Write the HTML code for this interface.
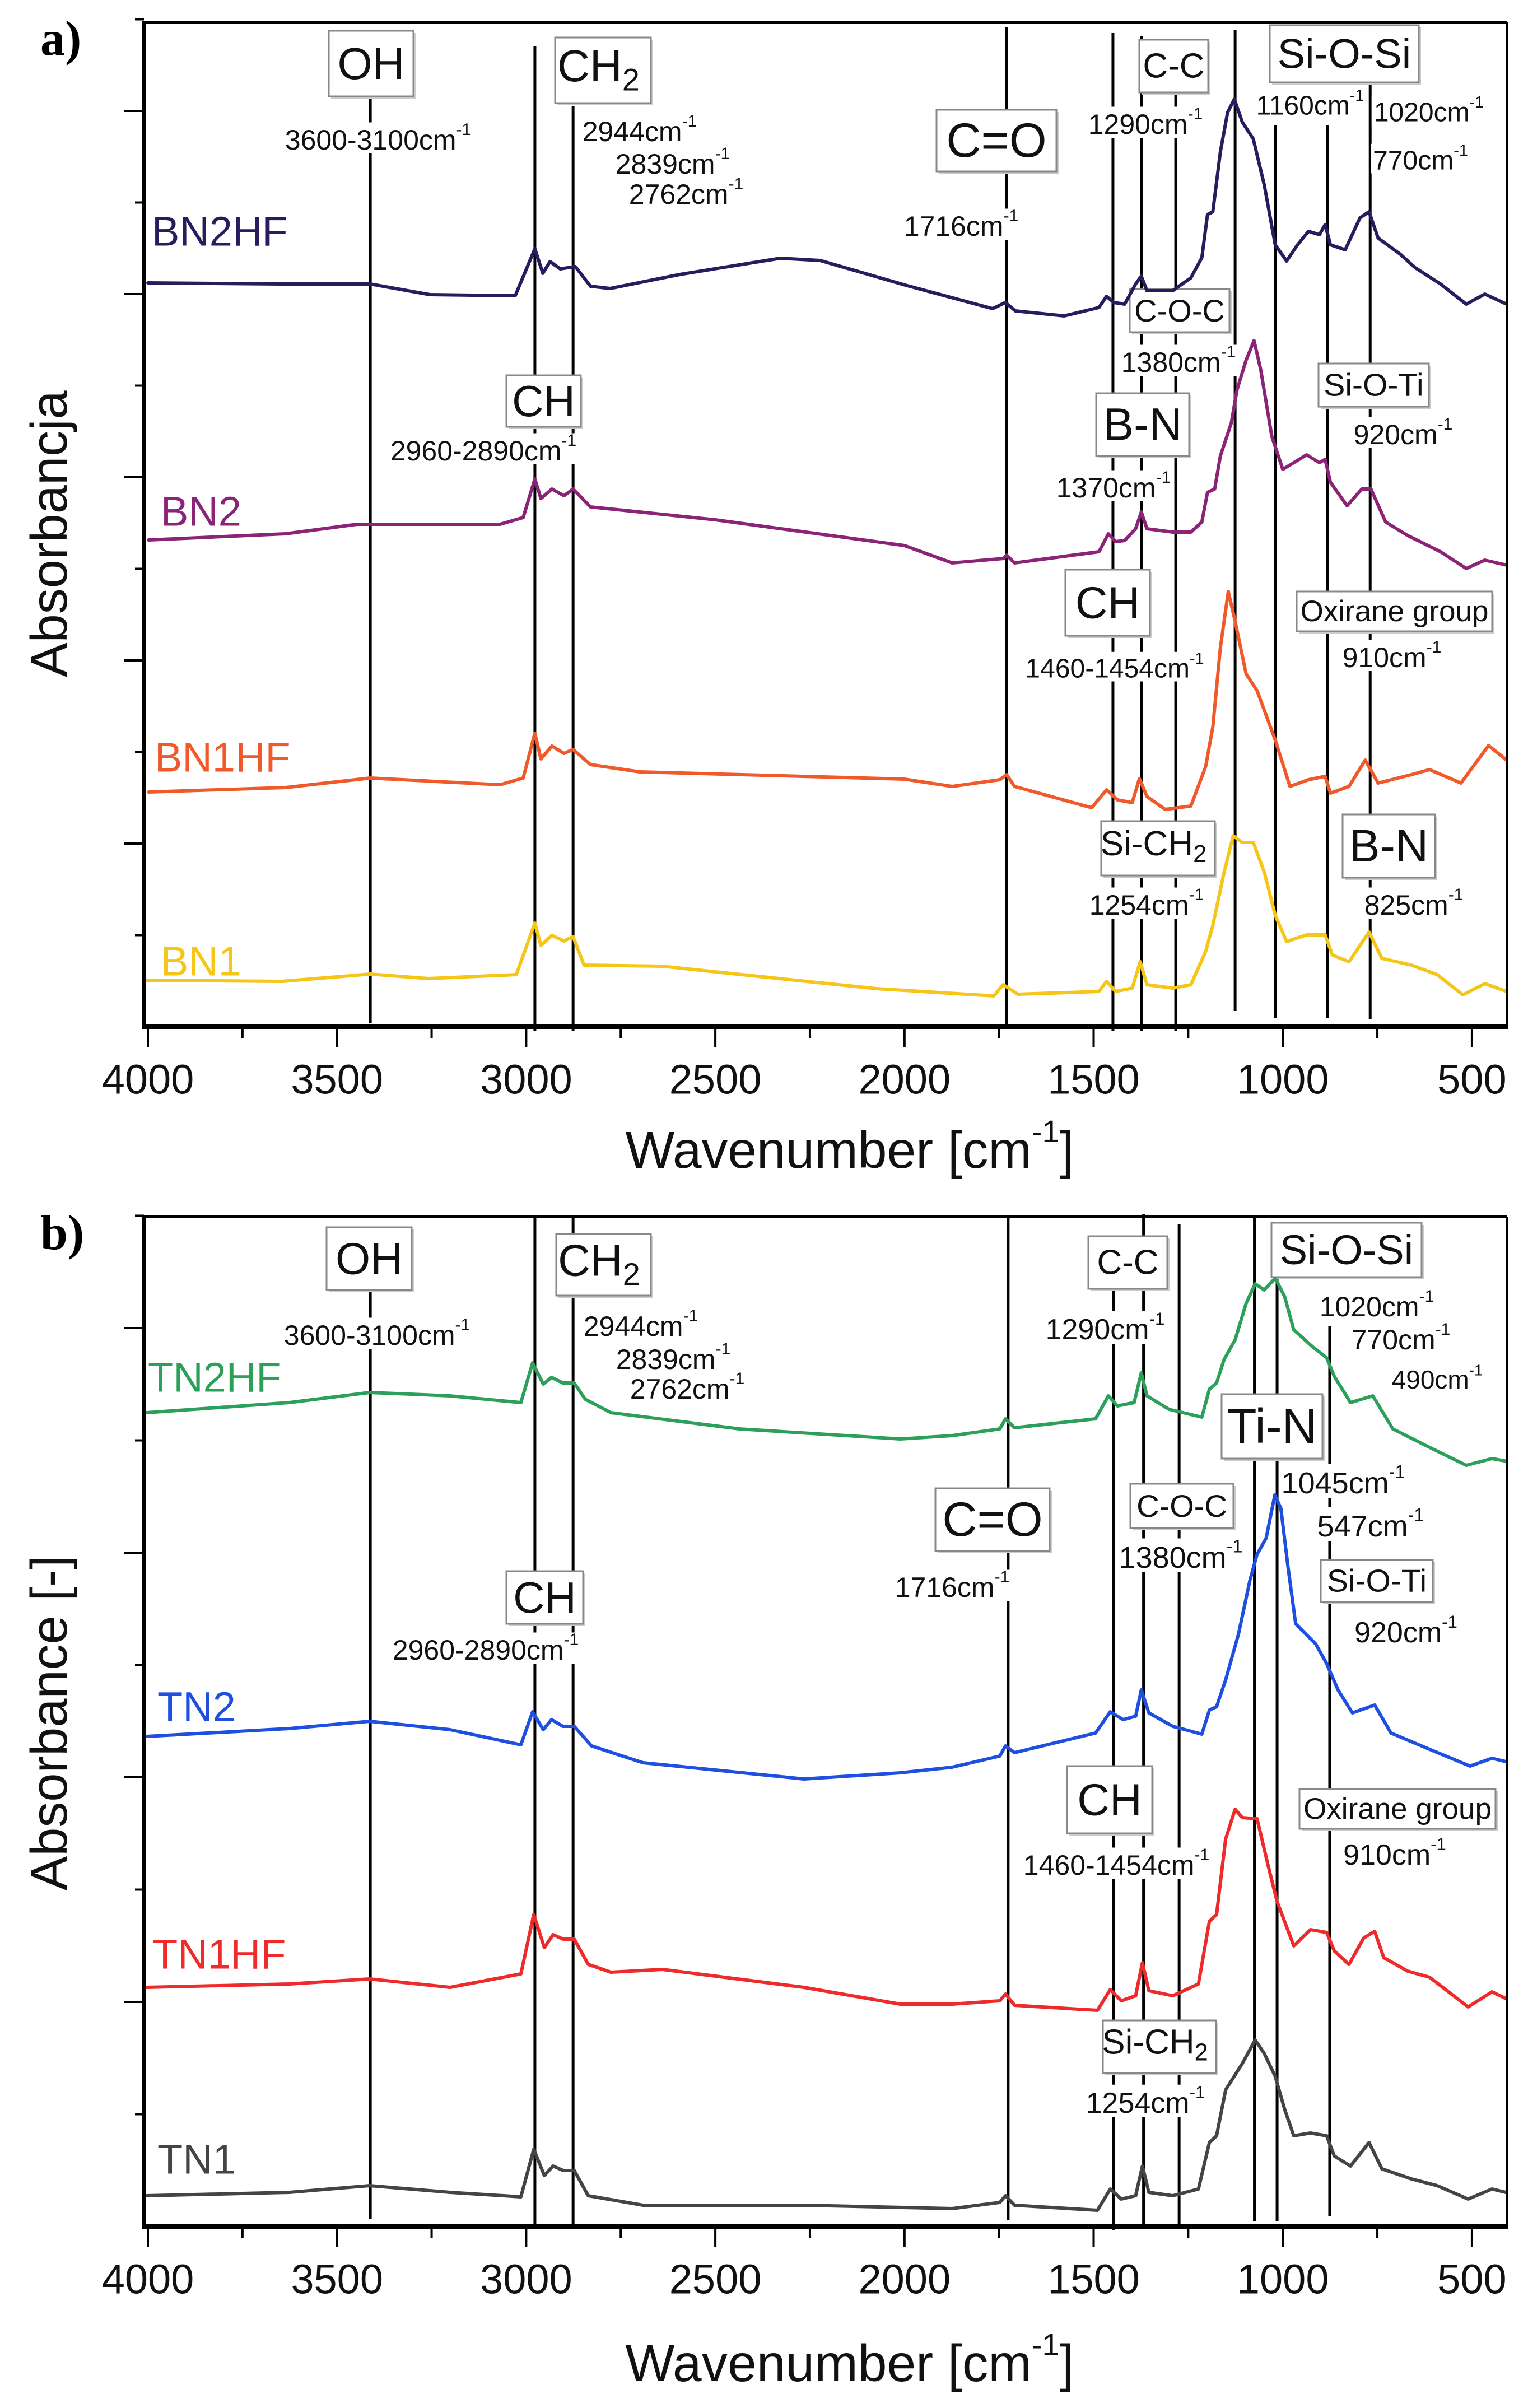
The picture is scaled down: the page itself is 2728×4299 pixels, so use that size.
<!DOCTYPE html>
<html><head><meta charset="utf-8">
<style>
html,body{margin:0;padding:0;background:#fff;}
svg{display:block;font-family:"Liberation Sans",Arial,sans-serif;}
</style></head>
<body>
<svg id="fig" xmlns="http://www.w3.org/2000/svg" width="2728" height="4299" viewBox="0 0 2728 4299">
<defs>
<clipPath id="clipA"><rect x="257" y="40" width="2433" height="1793"/></clipPath>
<clipPath id="clipB"><rect x="257" y="2172" width="2433" height="1803"/></clipPath>
</defs>
<g id="root"></g>
</svg>
<script>
// ---------- DATA ----------
const xTickValues = [4000,3500,3000,2500,2000,1500,1000,500];
const xMinorTicks = [3750,3250,2750,2250,1750,1250,750];
const yTicksA = [16.35,32.7,49.05,65.4,81.75,98.1,114.45,130.8,147.15,163.5,179.85];
const yTicksB = [20.05,40.1,60.15,80.2,100.25,120.3,140.35,160.4,180.45];

const bn2hfW = [4000,3651,3412,3254,3029,2977,2956,2937,2910,2870,2830,2778,2594,2328,2223,1998,1767,1733,1707,1578,1486,1466,1447,1418,1389,1374,1359,1291,1243,1214,1199,1185,1165,1146,1128,1107,1078,1049,1020,990,961,932,903,888,874,835,796,772,748,689,650,583,515,466,408];
const bn2hfA = [132.8,132.6,132.6,130.7,130.5,138.9,134.5,136.6,135.3,135.7,132.2,131.8,134.3,137.2,136.8,132.4,128.2,129.3,127.8,126.9,128.4,130.4,129.3,129.0,132.6,134.0,131.4,131.4,133.7,137.3,145.0,145.5,156.2,163.2,165.6,161.5,158.5,150.3,139.6,136.7,139.6,142.0,141.4,143.2,139.6,138.7,144.4,145.5,140.8,137.9,135.5,132.6,129.0,130.8,129.0];

const bn2W = [3998,3636,3447,3069,3008,2977,2961,2932,2900,2876,2830,2700,2500,2000,1874,1738,1730,1709,1486,1461,1442,1418,1389,1374,1359,1291,1243,1214,1199,1180,1165,1136,1121,1097,1076,1058,1029,1000,971,937,903,888,874,830,791,767,728,670,583,515,466,408];
const bn2A = [86.9,88.0,89.7,89.7,90.9,97.8,94.3,96.0,94.8,96.0,92.8,91.9,90.5,85.9,82.8,83.6,84.2,82.8,84.8,88.0,86.6,86.8,88.9,91.9,88.9,88.3,88.3,90.1,95.4,96.0,101.9,107.8,113.7,119.0,122.5,117.2,105.4,99.5,100.7,102.1,100.7,101.3,97.2,93.0,96.0,96.0,90.1,87.7,84.8,81.8,83.3,82.4];

const bn1hfW = [3998,3636,3412,3069,3008,2977,2961,2932,2900,2876,2830,2700,2000,1874,1748,1730,1709,1505,1466,1437,1398,1379,1359,1311,1243,1204,1185,1165,1144,1126,1097,1068,1020,981,932,888,874,825,782,748,660,612,529,456,408];
const bn1hfA = [41.9,42.7,44.4,43.2,44.4,52.4,47.8,50.1,48.8,49.5,46.8,45.5,44.2,42.9,44.1,45.0,42.9,39.1,42.3,40.5,40.0,44.3,41.1,38.8,39.4,46.4,53.5,67.7,77.7,72.4,63.0,60.0,51.2,42.9,44.1,44.7,41.7,42.9,47.6,43.5,45.0,45.9,43.5,50.2,47.6];

const bn1W = [4004,3645,3412,3258,3026,2977,2961,2932,2900,2876,2847,2640,2331,2074,1764,1739,1700,1486,1466,1442,1398,1377,1359,1291,1243,1204,1185,1155,1131,1107,1078,1049,1020,990,937,888,869,825,772,738,660,592,524,466,408];
const bn1A = [8.3,8.1,9.4,8.6,9.3,18.5,14.5,16.3,15.3,16.1,11.0,10.8,8.6,6.8,5.5,7.5,5.8,6.3,8.1,6.3,6.9,11.6,7.5,6.9,7.5,13.4,18.1,27.6,34.1,32.9,32.9,27.6,19.9,15.2,16.4,16.4,12.8,11.6,16.9,12.2,11.0,9.3,5.7,7.7,6.3];

const tn2hfW = [4003,3626,3414,3201,3014,2983,2955,2933,2903,2873,2844,2776,2437,2011,1874,1748,1733,1709,1495,1461,1437,1393,1374,1359,1301,1214,1194,1175,1155,1126,1097,1073,1049,1020,995,971,922,884,864,821,762,709,621,515,447,398];
const tn2hfA = [145.3,147.1,148.9,148.3,147.1,154.2,150.4,151.6,150.6,150.6,147.7,145.3,142.4,140.6,141.2,142.4,144.2,142.6,144.2,148.3,146.5,147.1,152.4,148.3,145.9,144.5,149.5,150.6,154.8,158.3,164.8,168.3,167.2,169.3,166.0,160.1,157.1,155.1,151.8,147.1,148.3,142.4,139.4,135.9,137.1,136.5];

const tn2W = [4003,3626,3414,3201,3014,2983,2955,2933,2903,2873,2827,2691,2266,2011,1874,1748,1733,1709,1495,1456,1422,1389,1374,1354,1291,1214,1194,1175,1151,1117,1087,1068,1044,1021,1005,986,966,913,884,854,816,757,714,612,505,447,398];
const tn2A = [87.5,88.9,90.2,88.7,86.0,91.9,88.7,90.5,89.3,89.3,85.8,82.8,79.9,81.0,82.0,84.0,85.8,84.6,88.1,91.9,90.5,91.1,95.8,91.7,89.3,87.9,92.2,92.8,97.6,105.8,115.3,120.0,122.9,130.6,128.2,117.6,107.6,104.0,100.5,95.8,91.7,93.1,88.1,85.2,82.2,83.6,82.8];

const tn1hfW = [4003,3626,3414,3201,3014,2980,2952,2929,2902,2873,2836,2776,2640,2266,2011,1874,1748,1733,1709,1490,1456,1427,1389,1371,1354,1291,1223,1194,1175,1151,1126,1107,1068,1039,1015,971,927,884,864,825,786,757,733,670,612,510,447,398];
const tn1hfA = [42.7,43.3,44.2,42.7,45.1,55.7,49.8,52.1,51.3,51.3,46.8,45.4,45.9,42.7,39.7,39.7,40.3,41.5,39.5,38.6,42.3,40.3,41.2,47.1,42.1,41.2,43.3,54.5,55.7,69.2,74.5,73.0,72.8,64.5,58.0,50.1,53.0,52.5,49.2,46.8,51.5,52.7,48.0,45.6,44.5,39.2,41.9,40.3];

const tn1W = [4003,3626,3414,3201,3014,2980,2952,2929,2902,2873,2836,2691,2266,1874,1748,1733,1709,1490,1456,1427,1389,1371,1354,1291,1223,1194,1175,1151,1107,1073,1049,1020,995,971,927,884,864,821,772,738,660,592,510,447,398];
const tn1A = [5.5,6.1,7.3,6.1,5.3,13.8,9.1,10.8,10.0,10.0,5.5,3.8,3.8,3.2,4.3,5.5,3.8,2.9,6.7,4.9,5.5,10.8,6.1,5.5,6.7,15.0,16.2,24.4,29.1,33.3,30.9,26.8,20.9,16.2,16.7,16.2,12.6,10.8,15.0,10.3,8.5,7.3,4.9,6.7,5.9];

const seriesNamesA = ["BN2HF","BN2","BN1HF","BN1"];
const seriesNamesB = ["TN2HF","TN2","TN1HF","TN1"];
const linesA = [3412,2977,2876,1730,1449,1373,1283,1126,1020,882,769];
const linesB = [3412,2977,2876,1726,1447,1368,1274,1075,1015,876];

// ---------- SCALES ----------
const X0 = 264, PXW = 0.6754;
function xs(w){ return X0 + (4000 - w) * PXW; }
function ysA(v){ return 1833 - v * 10; }
function ysB(v){ return 3975 - v * 10; }

const NS = "http://www.w3.org/2000/svg";
const root = document.getElementById('root');
function mk(tag, attrs, parent){
  const e = document.createElementNS(NS, tag);
  for (const k in attrs) e.setAttribute(k, attrs[k]);
  (parent || root).appendChild(e);
  return e;
}

function textEl(x, y, main, opts, parent){
  const t = mk('text', {x:x, y:y, 'font-size':opts.size, 'text-anchor':opts.anchor||'middle', 'dominant-baseline':'central', fill:opts.fill||'#111', 'font-weight':opts.bold?'bold':'normal'}, parent);
  t.appendChild(document.createTextNode(main));
  if (opts.sup){ const s = document.createElementNS(NS,'tspan'); s.setAttribute('font-size', opts.size*0.6); s.setAttribute('dy', -opts.size*0.38); s.textContent = opts.sup; t.appendChild(s); }
  if (opts.sub){ const s = document.createElementNS(NS,'tspan'); s.setAttribute('font-size', opts.size*0.7); s.setAttribute('dy', opts.size*0.3); s.textContent = opts.sub; t.appendChild(s); }
  return t;
}

function drawPanel(P){
  const g = mk('g', {});
  
  
  const top = P.top, bot = P.bot;
  const lg = mk('g', {stroke:'#000','stroke-width':5}, g);
  
  
  P.lines.forEach((w, i) => {
    const l = mk('line', {x1:xs(w), x2:xs(w), y1:P.lineTop[i], y2:P.lineBot[i]}, lg);
    
    
  });
  const labG = mk('g', {}, g);
  P.texts.forEach(t => {
    const el = textEl(t[0], t[1], t[2], {size:t[3], sup:'-1'}, labG);
    
    
    const b = el.getBBox();
    const r = mk('rect', {x:b.x-4, y:b.y+4, width:b.width+8, height:b.height-8, fill:'#fff'}, labG);
    labG.insertBefore(r, el);
  });
  P.boxes.forEach(bx => {
    const bg = mk('g', {}, g);
    
    
    mk('rect', {x:bx[0]+4, y:bx[1]+4, width:bx[2]-bx[0], height:bx[3]-bx[1], fill:'#ccc'}, bg);
    mk('rect', {x:bx[0], y:bx[1], width:bx[2]-bx[0], height:bx[3]-bx[1], fill:'#fff', stroke:'#888','stroke-width':3}, bg);
    textEl((bx[0]+bx[2])/2 - (bx[6]?8:0), (bx[1]+bx[3])/2 + (bx[6]?-8:0), bx[4], {size:bx[5], sub:bx[6]}, bg);
  });
  const sg = mk('g', {'clip-path':'url(#'+P.clip+')', fill:'none','stroke-width':6,'stroke-linejoin':'round','stroke-linecap':'round'}, g);
  P.series.forEach((s, i) => {
    const d = s.w.map((w, j) => (j ? 'L' : 'M') + xs(w).toFixed(1) + ' ' + P.ys(s.a[j]).toFixed(1)).join(' ');
    const p = mk('path', {d:d, stroke:s.color}, sg);
    
    
    const lab = textEl(s.lx, s.ly, P.names[i], {size:74, anchor:'start', fill:s.color}, g);
    
    
  });
  const fr = mk('g', {stroke:'#000'}, g);
  
  
  mk('line', {x1:257, x2:2690, y1:top, y2:top, 'stroke-width':4}, fr);
  mk('line', {x1:2690, x2:2690, y1:top, y2:bot, 'stroke-width':4}, fr);
  mk('line', {x1:257, x2:257, y1:top-2, y2:bot+3, 'stroke-width':6}, fr);
  mk('line', {x1:254, x2:2693, y1:bot, y2:bot, 'stroke-width':8}, fr);
  xTickValues.forEach(v => {
    mk('line', {x1:xs(v), x2:xs(v), y1:bot, y2:bot+37, 'stroke-width':4}, fr);
    const t = textEl(xs(v), bot+94, String(v), {size:74}, g);
    
    
  });
  xMinorTicks.forEach(v => mk('line', {x1:xs(v), x2:xs(v), y1:bot, y2:bot+20, 'stroke-width':4}, fr));
  P.yTicks.forEach((v, i) => {
    const major = (i % 2 === 1);
    mk('line', {x1:major?222:241, x2:257, y1:P.ys(v), y2:P.ys(v), 'stroke-width':4}, fr);
  });
  const xt = textEl(1517, P.xTitleY, 'Wavenumber [cm', {size:93}, g);
  const s2 = document.createElementNS(NS,'tspan'); s2.setAttribute('font-size', 56); s2.setAttribute('dy', -34); s2.textContent='-1'; xt.appendChild(s2);
  const s3 = document.createElementNS(NS,'tspan'); s3.setAttribute('dy', 34); s3.textContent=']'; xt.appendChild(s3);
  
  
  const yt = textEl(0, 0, P.yTitle, {size:92}, g);
  yt.setAttribute('transform', 'translate(88,' + P.yTitleY + ') rotate(-90)');
  
  
  const pl = mk('text', {x:72, y:P.top+58, 'font-size':88, 'font-weight':'bold', 'font-family':'"Liberation Serif",serif', fill:'#000'}, g);
  pl.textContent = P.letter;
  
  
}

drawPanel({
  name:'panel-a', top:40, bot:1833, clip:'clipA', ys:ysA, yTicks:yTicksA,
  names:seriesNamesA, lines:linesA,
  lineTop:[172,82,189,48,59,65,83,53,224,224,147],
  lineBot:[1826,1840,1840,1828,1840,1840,1840,1805,1817,1817,1820],
  series:[
    {w:bn2hfW, a:bn2hfA, color:'#2a1b5e', lx:271, ly:413},
    {w:bn2W, a:bn2A, color:'#8b2476', lx:287, ly:913},
    {w:bn1hfW, a:bn1hfA, color:'#f05a2a', lx:276, ly:1352},
    {w:bn1W, a:bn1A, color:'#f5c518', lx:287, ly:1716}
  ],
  texts:[
    [675,250,'3600-3100cm',50],[863,805,'2960-2890cm',50],
    [1142,235,'2944cm',50],[1201,293,'2839cm',50],[1225,347,'2762cm',50],
    [1716,404,'1716cm',50],[2045,222,'1290cm',50],[2339,189,'1160cm',48],
    [2551,201,'1020cm',48],[2536,287,'770cm',48],[2104,647,'1380cm',50],
    [1988,871,'1370cm',50],[2505,776,'920cm',50],[1990,1194,'1460-1454cm',48],
    [2485,1174,'910cm',50],[2047,1616,'1254cm',50],[2524,1616,'825cm',50]
  ],
  boxes:[
    [587,55,738,172,'OH',80],[991,67,1162,184,'CH',80,'2'],[904,670,1037,762,'CH',78],
    [1672,196,1886,306,'C=O',86],[2034,71,2157,165,'C-C',62],[2267,45,2533,147,'Si-O-Si',74],
    [2017,516,2195,593,'C-O-C',56],[1957,702,2123,814,'B-N',82],[2354,649,2551,726,'Si-O-Ti',57],
    [1902,1017,2053,1135,'CH',80],[2315,1056,2664,1127,'Oxirane group',53],
    [1966,1466,2169,1563,'Si-CH',62,'2'],[2397,1454,2562,1567,'B-N',82]
  ],
  xTitleY:2053, yTitle:'Absorbancja', yTitleY:953, letter:'a)'
});

drawPanel({
  name:'panel-b', top:2172, bot:3975, clip:'clipB', ys:ysB, yTicks:yTicksB,
  names:seriesNamesB, lines:linesB,
  lineTop:[2303,2174,2174,2174,2303,2168,2185,2174,2280,2368],
  lineBot:[3962,3975,3975,3963,3982,3975,3975,3965,3965,3957],
  series:[
    {w:tn2hfW, a:tn2hfA, color:'#2ca05a', lx:264, ly:2459},
    {w:tn2W, a:tn2A, color:'#1f4fe0', lx:281, ly:3047},
    {w:tn1hfW, a:tn1hfA, color:'#ee2a2a', lx:272, ly:3489},
    {w:tn1W, a:tn1A, color:'#444444', lx:281, ly:3855}
  ],
  texts:[
    [673,2384,'3600-3100cm',50],[867,2946,'2960-2890cm',50],
    [1144,2368,'2944cm',50],[1202,2427,'2839cm',50],[1227,2480,'2762cm',50],
    [1700,2834,'1716cm',50],[1973,2374,'1290cm',52],[2458,2333,'1020cm',50],
    [2501,2392,'770cm',50],[2566,2463,'490cm',46],[2398,2648,'1045cm',54],
    [2447,2725,'547cm',54],[2108,2781,'1380cm',54],[2510,2915,'920cm',52],
    [1993,3330,'1460-1454cm',50],[2490,3312,'910cm',52],[2045,3755,'1254cm',52]
  ],
  boxes:[
    [583,2191,735,2303,'OH',80],[993,2203,1162,2313,'CH',80,'2'],[904,2805,1041,2899,'CH',78],
    [1670,2657,1874,2769,'C=O',86],[1943,2207,2084,2301,'C-C',62],[2270,2183,2538,2280,'Si-O-Si',74],
    [2181,2489,2361,2604,'Ti-N',87],[2018,2649,2202,2728,'C-O-C',56],[2358,2785,2558,2860,'Si-O-Ti',57],
    [1905,3153,2057,3273,'CH',80],[2320,3194,2670,3265,'Oxirane group',53],
    [1969,3607,2171,3701,'Si-CH',62,'2']
  ],
  xTitleY:4219, yTitle:'Absorbance [-]', yTitleY:3076, letter:'b)'
});
</script>
</body></html>
